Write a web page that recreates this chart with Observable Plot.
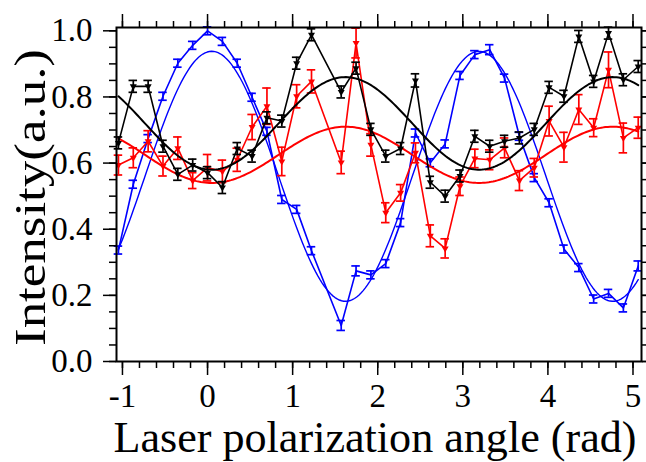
<!DOCTYPE html>
<html>
<head>
<meta charset="utf-8">
<script src="https://cdn.jsdelivr.net/npm/d3@7"></script>
<script src="https://cdn.jsdelivr.net/npm/@observablehq/plot@0.6"></script>
<style>
  html, body { margin: 0; padding: 0; background: #fff; }
  #chart svg { display: block; font-family: "Liberation Serif", "Times New Roman", serif; }
</style>
</head>
<body>
<div id="chart"></div>
<script>
// Polarization angle of the laser, in degrees (no measurement at 80°)
const angleDeg = [-60, -50, -40, -30, -20, -10, 0, 10, 20, 30, 40, 50, 60, 70,
  90, 100, 110, 120, 130, 140, 150, 160, 170, 180, 190, 200, 210, 220, 230, 240, 250, 260, 270, 280, 290];

// Normalized intensities and their uncertainties
const blueI = [0.337, 0.536, 0.674, 0.802, 0.902, 0.956, 1.000, 0.968, 0.902, 0.799, 0.696, 0.490, 0.460, 0.335,
  0.109, 0.274, 0.262, 0.296, 0.420, 0.691, 0.601, 0.658, 0.865, 0.928, 0.943, 0.857, 0.681, 0.556, 0.480, 0.340,
  0.284, 0.189, 0.206, 0.162, 0.289];
const blueErr = [0.012, 0.012, 0.012, 0.012, 0.012, 0.012, 0.012, 0.012, 0.012, 0.012, 0.012, 0.012, 0.012, 0.012,
  0.015, 0.015, 0.012, 0.012, 0.012, 0.012, 0.012, 0.012, 0.012, 0.012, 0.015, 0.012, 0.012, 0.012, 0.012, 0.012,
  0.012, 0.012, 0.012, 0.012, 0.015];

const redI = [0.594, 0.616, 0.666, 0.591, 0.645, 0.547, 0.586, 0.575, 0.610, 0.709, 0.772, 0.605, 0.802, 0.847,
  0.602, 0.963, 0.655, 0.450, 0.510, 0.631, 0.380, 0.342, 0.530, 0.614, 0.610, 0.646, 0.547, 0.586, 0.727, 0.648,
  0.762, 0.707, 0.882, 0.676, 0.707];
const redErr = [0.030, 0.030, 0.032, 0.030, 0.034, 0.024, 0.040, 0.034, 0.035, 0.038, 0.055, 0.043, 0.035, 0.035,
  0.034, 0.045, 0.034, 0.030, 0.025, 0.030, 0.033, 0.029, 0.028, 0.028, 0.030, 0.030, 0.030, 0.028, 0.045, 0.045,
  0.045, 0.027, 0.054, 0.045, 0.032];

const blackI = [0.661, 0.832, 0.832, 0.651, 0.566, 0.594, 0.571, 0.526, 0.644, 0.621, 0.737, 0.727, 0.902, 0.988,
  0.815, 0.887, 0.702, 0.621, 0.644, 0.850, 0.542, 0.500, 0.561, 0.681, 0.651, 0.666, 0.676, 0.702, 0.829, 0.802,
  0.983, 0.847, 0.993, 0.852, 0.892];
const blackErr = [0.018, 0.018, 0.018, 0.018, 0.018, 0.018, 0.018, 0.018, 0.018, 0.018, 0.018, 0.018, 0.018, 0.018,
  0.018, 0.018, 0.018, 0.018, 0.018, 0.020, 0.018, 0.018, 0.018, 0.018, 0.018, 0.018, 0.018, 0.018, 0.018, 0.018,
  0.018, 0.018, 0.018, 0.018, 0.018];

// cos² fit parameters: I(θ) = offset + amplitude · cos(2(θ − phase))
const seriesColor = ["blue", "red", "black"];
const fitOffset = [0.560, 0.625, 0.720];
const fitAmplitude = [0.378, -0.085, -0.140];
const fitPhase = [0.05, 0.05, 0.05];

// Axis ticks and titles
const xMajor = [-1, 0, 1, 2, 3, 4, 5];
const xMinor = d3.range(-1, 5.01, 0.2).map(v => +v.toFixed(2));
const yMajor = [0, 0.2, 0.4, 0.6, 0.8, 1.0];
const yMinor = d3.range(0, 1.001, 0.05).map(v => +v.toFixed(2));
const xTitle = "Laser polarization angle (rad)";
const yTitle = "Intensity(a.u.)";

const rad = d => d * Math.PI / 180;
const seriesValues = [[blueI, blueErr], [redI, redErr], [blackI, blackErr]];
const points = seriesValues.flatMap(([vals, errs], s) =>
  angleDeg.map((d, i) => ({x: rad(d), y: vals[i], e: errs[i], s: seriesColor[s]})));

const thetaMin = rad(angleDeg[0]), thetaMax = rad(angleDeg[angleDeg.length - 1]);
const thetaGrid = d3.range(0, 241).map(k => thetaMin + (thetaMax - thetaMin) * k / 240);
const fits = seriesColor.flatMap((c, s) =>
  thetaGrid.map(t => ({x: t, y: fitOffset[s] + fitAmplitude[s] * Math.cos(2 * (t - fitPhase[s])), s: c})));

const cap = 0.05; // half-width of the error-bar caps, in radians
const tickFont = 33;

const marks = [];
for (const c of seriesColor) {
  const pts = points.filter(p => p.s === c);
  const fit = fits.filter(p => p.s === c);
  marks.push(
    Plot.line(fit, {x: "x", y: "y", stroke: c, strokeWidth: c === "blue" ? 1.4 : 2}),
    Plot.line(pts, {x: "x", y: "y", stroke: c, strokeWidth: 1.6}),
    Plot.ruleX(pts, {x: "x", y1: p => p.y - p.e, y2: p => p.y + p.e, stroke: c, strokeWidth: 1.7}),
    Plot.ruleY(pts, {x1: p => p.x - cap, x2: p => p.x + cap, y: p => p.y - p.e, stroke: c, strokeWidth: 1.7}),
    Plot.ruleY(pts, {x1: p => p.x - cap, x2: p => p.x + cap, y: p => p.y + p.e, stroke: c, strokeWidth: 1.7})
  );
  if (c !== "blue") {
    marks.push(Plot.dot(pts, {x: "x", y: "y", symbol: "triangle", rotate: 180, r: 2.6, fill: c, stroke: "none"}));
  }
}

const chart = Plot.plot({
  width: 646,
  height: 462,
  marginLeft: 116,
  marginRight: 5,
  marginTop: 27,
  marginBottom: 101,
  x: {domain: [-1.07, 5.1]},
  y: {domain: [0, 1.01]},
  marks: [
    ...marks,
    Plot.frame({stroke: "black", strokeWidth: 2}),
    // bottom axis
    Plot.axisX({anchor: "bottom", ticks: xMinor, tickSize: 7, tickFormat: () => "", label: null, strokeWidth: 1.5}),
    Plot.axisX({anchor: "bottom", ticks: xMajor, tickSize: 14, tickPadding: 8, tickFormat: d => String(d),
      fontSize: tickFont, label: null, strokeWidth: 1.5, fill: "black"}),
    // top axis
    Plot.axisX({anchor: "top", ticks: xMinor, tickSize: 7, tickFormat: () => "", label: null, strokeWidth: 1.5}),
    Plot.axisX({anchor: "top", ticks: xMajor, tickSize: 14, tickFormat: () => "", label: null, strokeWidth: 1.5}),
    // left axis
    Plot.axisY({anchor: "left", ticks: yMinor, tickSize: 7, tickFormat: () => "", label: null, strokeWidth: 1.5}),
    Plot.axisY({anchor: "left", ticks: yMajor, tickSize: 13, tickPadding: 11, tickFormat: d3.format(".1f"),
      fontSize: tickFont, label: null, strokeWidth: 1.5, fill: "black"}),
    // right axis
    Plot.axisY({anchor: "right", ticks: yMinor, tickSize: 7, tickFormat: () => "", label: null, strokeWidth: 1.5}),
    Plot.axisY({anchor: "right", ticks: yMajor, tickSize: 13, tickFormat: () => "", label: null, strokeWidth: 1.5}),
    // axis titles
    Plot.text([xTitle], {frameAnchor: "bottom", dx: -4, dy: 90, fontSize: 44, fill: "black"}),
    Plot.text([yTitle], {frameAnchor: "left", dx: -86, dy: 3, rotate: -90, textAnchor: "middle",
      fontSize: 44, fill: "black"})
  ]
});

// stretch the axis titles to their full extent along the axes
d3.select(chart).selectAll("text").each(function () {
  const t = this.textContent;
  if (t === xTitle) d3.select(this).attr("textLength", 523).attr("lengthAdjust", "spacingAndGlyphs");
  if (t === yTitle) d3.select(this).attr("textLength", 297).attr("lengthAdjust", "spacingAndGlyphs");
});

document.getElementById("chart").append(chart);
</script>
</body>
</html>
